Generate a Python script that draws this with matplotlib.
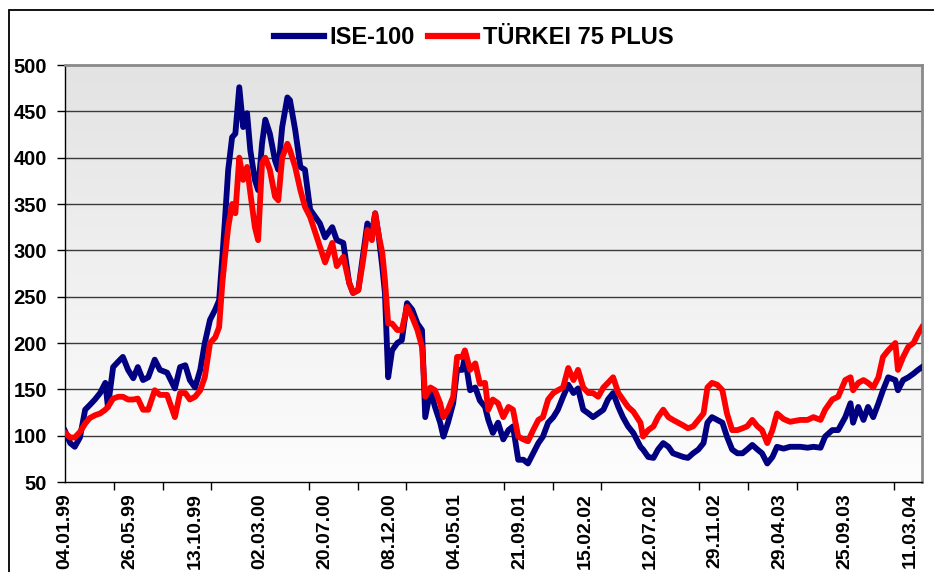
import matplotlib
matplotlib.use("Agg")
import matplotlib.pyplot as plt
import numpy as np
from matplotlib.colors import LinearSegmentedColormap
from matplotlib.patches import Rectangle

# ---- data (trading-day index) ----
day = [0, 8, 15, 23, 31, 38, 46, 54, 62, 66, 74, 82, 89, 97, 105, 112, 120, 128, 138, 146,
       157, 169, 177, 185, 192, 200, 208, 215, 223, 231, 237, 242, 246, 251, 257, 262, 268, 274, 280, 285,
       292, 297, 303, 308, 315, 323, 328, 334, 342, 346, 354, 362, 369, 377, 385, 392, 400, 411, 418, 428,
       437, 443, 451, 458, 465, 472, 477, 482, 488, 492, 497, 503, 511, 518, 526, 534, 542, 549, 554, 562,
       569, 577, 582, 589, 597, 603, 611, 615, 623, 631, 638, 646, 651, 658, 666, 674, 682, 689, 697, 705,
       712, 720, 728, 735, 743, 751, 758, 766, 774, 782, 789, 797, 805, 812, 820, 828, 835, 843, 851, 858,
       866, 874, 885, 889, 897, 905, 912, 920, 928, 935, 943, 951, 958, 966, 974, 982, 988, 995, 1003, 1011,
       1018, 1026, 1034, 1042, 1049, 1057, 1065, 1072, 1080, 1088, 1095, 1105, 1115, 1131, 1142, 1151, 1162, 1169, 1180, 1189,
       1200, 1208, 1212, 1220, 1228, 1235, 1243, 1251, 1258, 1266, 1277, 1281, 1289, 1297, 1305, 1312, 1318]

ise100 = [105, 92, 88, 98, 128, 133, 139, 146, 157, 131, 174, 180, 185, 171, 162, 174, 160, 163, 182, 171,
          168, 151, 174, 176, 160, 152, 171, 200, 225, 236, 246, 293, 333, 387, 422, 426, 476, 433, 448, 408,
          376, 365, 415, 441, 426, 397, 387, 433, 465, 462, 430, 390, 387, 344, 336, 329, 314, 325, 311, 308,
          265, 254, 257, 293, 329, 318, 340, 318, 282, 254, 163, 192, 200, 203, 243, 236, 221, 214, 120, 149,
          131, 114, 99, 114, 135, 171, 171, 185, 149, 152, 138, 131, 117, 103, 114, 96, 106, 110, 74, 74,
          70, 81, 92, 99, 114, 120, 128, 142, 155, 146, 151, 128, 124, 120, 124, 128, 139, 146, 131, 120,
          110, 103, 88, 85, 77, 76, 85, 92, 88, 81, 79, 77, 76, 81, 85, 92, 114, 120, 117, 114,
          99, 85, 81, 81, 85, 90, 85, 81, 70, 77, 88, 86, 88, 88, 87, 88, 87, 99, 106, 106,
          120, 135, 114, 131, 117, 131, 120, 135, 149, 163, 160, 149, 160, 163, 167, 171, 174]

turkei75 = [103, 98, 98, 104, 113, 119, 122, 124, 128, 131, 140, 142, 142, 139, 139, 140, 128, 128, 149, 144,
            144, 120, 146, 146, 139, 142, 149, 163, 200, 206, 217, 265, 293, 325, 350, 340, 400, 376, 390, 362,
            325, 311, 394, 400, 387, 358, 354, 400, 415, 408, 390, 365, 347, 336, 319, 304, 287, 308, 283, 293,
            265, 254, 257, 287, 322, 311, 340, 318, 297, 268, 221, 221, 214, 214, 239, 228, 214, 196, 142, 152,
            149, 135, 120, 128, 142, 185, 185, 192, 171, 178, 156, 157, 128, 139, 135, 120, 131, 128, 99, 96,
            94, 106, 117, 120, 139, 146, 149, 152, 173, 160, 171, 152, 146, 146, 142, 152, 157, 163, 146, 139,
            131, 126, 114, 99, 106, 110, 120, 128, 120, 117, 114, 111, 108, 110, 117, 124, 152, 157, 155, 149,
            124, 106, 106, 108, 110, 117, 110, 106, 92, 106, 124, 118, 115, 117, 117, 120, 117, 128, 139, 142,
            160, 163, 149, 157, 160, 157, 152, 163, 185, 192, 200, 171, 185, 196, 200, 210, 217]

label_days = [0, 100, 200, 300, 400, 500, 600, 700, 800, 900, 1000, 1100, 1200, 1300]
date_labels = ['04.01.99', '26.05.99', '13.10.99', '02.03.00', '20.07.00', '08.12.00', '04.05.01',
               '21.09.01', '15.02.02', '12.07.02', '29.11.02', '29.04.03', '25.09.03', '11.03.04']
y_ticks = [50, 100, 150, 200, 250, 300, 350, 400, 450, 500]
series_names = ['ISE-100', 'TÜRKEI 75 PLUS']

# ---- figure ----
plt.rcParams['font.family'] = ['Liberation Sans', 'DejaVu Sans']
W, H = 934, 572
fig = plt.figure(figsize=(W / 100, H / 100), dpi=100)
fig.patch.set_facecolor('white')

# outer chart border
fig.patches.append(Rectangle((9 / W, -0.1), 2.0, 1 - 10 / H + 0.1, transform=fig.transFigure,
                             fill=False, edgecolor='black', linewidth=1.3, zorder=0))

L, R, T, B = 65, 922, 65, 482
ax = fig.add_axes([L / W, 1 - B / H, (R - L) / W, (B - T) / H])

# gradient plot background
cmap = LinearSegmentedColormap.from_list('bg', ['#fdfdfd', '#e3e3e3'])
grad = np.linspace(0, 1, 256).reshape(-1, 1)
ax.imshow(grad, extent=[0, 1, 0, 1], transform=ax.transAxes, cmap=cmap, origin='lower',
          aspect='auto', zorder=0)

ax.set_xlim(0, 1318)
ax.set_ylim(50, 500)

for yv in y_ticks[1:-1]:
    ax.axhline(yv, color='#3a3a3a', linewidth=1.0, zorder=1)

ax.plot(day, ise100, color='#000080', linewidth=4.2, solid_joinstyle='round', zorder=3,
        label=series_names[0])
ax.plot(day, turkei75, color='#ff0000', linewidth=4.2, solid_joinstyle='round', zorder=4,
        label=series_names[1])

# spines
for s in ['left', 'bottom']:
    ax.spines[s].set_color('black')
    ax.spines[s].set_linewidth(1.0)
for s in ['top', 'right']:
    ax.spines[s].set_color('#8a8a8a')
    ax.spines[s].set_linewidth(2.0)

# y axis
ax.set_yticks(y_ticks)
ax.set_yticklabels([str(v) for v in y_ticks], fontsize=14.5, fontweight='bold')
ax.tick_params(axis='y', direction='out', length=6, width=1, color='black', pad=7)

# x axis: labels every 100 days, tick marks every 75 days
ax.set_xticks(label_days)
ax.set_xticklabels(date_labels, rotation=90, fontsize=14, fontweight='bold', va='top', ha='center')
ax.set_xticks(np.arange(0, 1319, 75), minor=True)
ax.tick_params(axis='x', which='major', length=0, pad=8)
ax.tick_params(axis='x', which='minor', direction='out', length=6, width=1, color='black')

# legend
leg = fig.legend(loc='center', bbox_to_anchor=(474 / W, 1 - 38 / H), ncol=2, frameon=False,
                 handlelength=2.1, handletextpad=0.25, columnspacing=0.55,
                 prop={'weight': 'bold', 'size': 17})
for line in leg.get_lines():
    line.set_linewidth(4.5)

fig.savefig('out.png', dpi=100)
